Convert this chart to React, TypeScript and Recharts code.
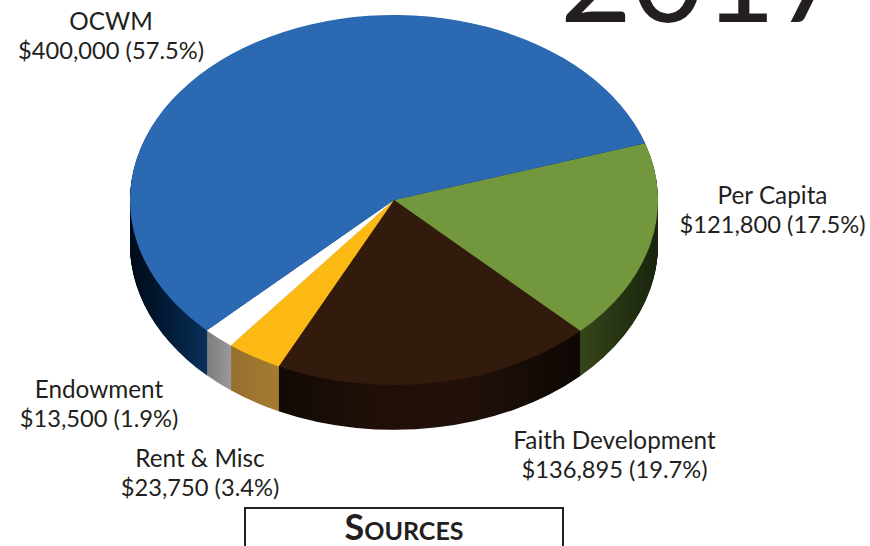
import { Cell, Pie, PieChart } from "recharts";

const categories = ["Per Capita", "Faith Development", "Rent & Misc", "Endowment", "OCWM"];
const amounts = [121800, 136895, 23750, 13500, 400000];
const amountLabels = ["$121,800 (17.5%)", "$136,895 (19.7%)", "$23,750 (3.4%)", "$13,500 (1.9%)", "$400,000 (57.5%)"];

const topColors = ["#72973c", "#321a0d", "#fdb913", "#ffffff", "#2b69b2"];
const labelCenters = [
	[772.5, 181],
	[614.5, 426],
	[200, 444],
	[99, 375],
	[111, 7],
];

const sideGradients = [
	[[0.7, "#364619"], [0.85, "#273513"], [1, "#18240e"]],
	[[0, "#120a05"], [0.3, "#1f0f08"], [0.6, "#22110a"], [1, "#0e0704"]],
	[[0, "#96702e"], [0.29, "#a57b30"]],
	[[0, "#7d7d7d"], [0.13, "#999999"]],
	[[0, "#000b18"], [0.05, "#00162c"], [0.15, "#0a2f5a"]],
];

const tableData = categories.map((name, i) => ({ name, value: amounts[i] }));

const FONT = "Lato, sans-serif";
const INK = "#231f20";
const RADIUS = 264;
const SQUASH = 185 / 264;
const CENTER_X = 394;
const CENTER_Y = 200 / SQUASH;
const DEPTH = Math.round(45 / SQUASH);
const START_ANGLE = 17.9;

// side of the disc: same pie stacked downward, deepest first
const sideLayers = Array.from({ length: DEPTH }, (_, i) => DEPTH - i);

export default function App() {
	return (
		<div style={{ position: "relative", width: 870, height: 546, overflow: "hidden", background: "#fff", fontFamily: FONT, color: INK }}>
			<style>{"body{margin:0}"}</style>
			<div
				style={{
					position: "absolute",
					left: 560,
					top: -88,
					fontSize: 124,
					lineHeight: "124px",
					whiteSpace: "nowrap",
				}}
			>
				2017
			</div>
			<div style={{ position: "absolute", left: 0, top: 0, transform: `scaleY(${SQUASH})`, transformOrigin: "0 0" }}>
				<PieChart width={870} height={660} margin={{ top: 0, right: 0, bottom: 0, left: 0 }}>
					<defs>
						{sideGradients.map((stops, i) => (
							<linearGradient key={i} id={`side-${i}`} x1="0" y1="0" x2="1" y2="0">
								{stops.map(([offset, color]) => (
									<stop key={offset} offset={offset} stopColor={color as string} />
								))}
							</linearGradient>
						))}
					</defs>
					{sideLayers.map((depth) => (
						<Pie
							key={depth}
							data={tableData}
							dataKey="value"
							cx={CENTER_X}
							cy={CENTER_Y + depth}
							outerRadius={RADIUS}
							startAngle={START_ANGLE}
							endAngle={START_ANGLE - 360}
							stroke="none"
							isAnimationActive={false}
						>
							{tableData.map((d, i) => (
								<Cell key={d.name} fill={`url(#side-${i})`} />
							))}
						</Pie>
					))}
					<Pie
						data={tableData}
						dataKey="value"
						cx={CENTER_X}
						cy={CENTER_Y}
						outerRadius={RADIUS}
						startAngle={START_ANGLE}
						endAngle={START_ANGLE - 360}
						stroke="none"
						isAnimationActive={false}
					>
						{tableData.map((d, i) => (
							<Cell key={d.name} fill={topColors[i]} />
						))}
					</Pie>
				</PieChart>
			</div>
			{categories.map((name, i) => (
				<div
					key={name}
					style={{
						position: "absolute",
						left: labelCenters[i][0] - 130,
						top: labelCenters[i][1],
						width: 260,
						textAlign: "center",
						fontSize: 23.7,
						lineHeight: "28.5px",
					}}
				>
					<div style={{ fontSize: 24.3 }}>{name}</div>
					<div>{amountLabels[i]}</div>
				</div>
			))}
			<div
				style={{
					position: "absolute",
					left: 244,
					top: 507,
					width: 320,
					height: 60,
					boxSizing: "border-box",
					border: `2.5px solid ${INK}`,
					textAlign: "center",
					fontSize: 36,
					lineHeight: "34px",
					fontWeight: 700,
					fontVariant: "small-caps",
				}}
			>
				Sources
			</div>
		</div>
	);
}
